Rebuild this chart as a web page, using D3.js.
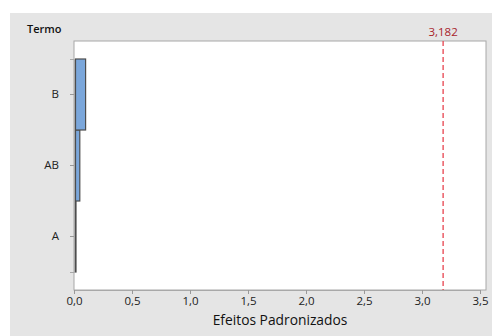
<!DOCTYPE html>
<html>
<head>
<meta charset="utf-8">
<script src="https://cdn.jsdelivr.net/npm/d3@7"></script>
<style>
  body { margin: 0; background: #fff; }
  svg { display: block; }
  text { font-family: "Open Sans", "Noto Sans", sans-serif; fill: #222; }
</style>
</head>
<body>
<svg id="chart" width="493" height="336"></svg>
<script>
// Pareto of standardized effects
const terms = ["A", "AB", "B"];
const effects = [0.012, 0.05, 0.10];
const xTicks = [0, 0.5, 1.0, 1.5, 2.0, 2.5, 3.0, 3.5];
const refValue = 3.182;
const refLabel = "3,182";
const xTitle = "Efeitos Padronizados";
const yTitle = "Termo";

const svg = d3.select("#chart");
const W = 493, H = 336;
const plot = { left: 74, top: 41, right: 486, bottom: 290 };

// gray panel
svg.append("rect").attr("x", 10).attr("y", 13).attr("width", 482).attr("height", H - 13)
  .attr("fill", "#e5e5e5");
svg.append("rect").attr("x", plot.left).attr("y", plot.top)
  .attr("width", plot.right - plot.left).attr("height", plot.bottom - plot.top)
  .attr("fill", "#fff").attr("stroke", "#a8a8a8").attr("stroke-width", 1);

const x = d3.scaleLinear().domain([0, 3.5]).range([plot.left, 480]);
const y = d3.scaleBand().domain(terms).range([272, 59]).padding(0);

// bars
const data = terms.map((t, i) => ({ term: t, value: effects[i] }));
svg.append("g").selectAll("rect").data(data).join("rect")
  .attr("x", x(0) + 1.5)
  .attr("y", d => y(d.term))
  .attr("width", d => Math.max(0.5, x(d.value) - x(0) - 1.5))
  .attr("height", y.bandwidth())
  .attr("fill", "#7ba7db")
  .attr("stroke", "#4d4d4d")
  .attr("stroke-width", 1.2);

// x axis
const xAxis = d3.axisBottom(x).tickValues(xTicks).tickSize(4).tickPadding(3)
  .tickFormat(d => d3.format(".1f")(d).replace(".", ","));
const gx = svg.append("g").attr("transform", `translate(0,${plot.bottom})`).call(xAxis);
gx.select(".domain").attr("stroke", "#a8a8a8");
gx.selectAll(".tick line").attr("stroke", "#999");
gx.selectAll(".tick text").attr("font-size", 11.5).attr("fill", "#222");

// y axis
const yAxis = d3.axisLeft(y).tickSize(4).tickPadding(11);
const gy = svg.append("g").attr("transform", `translate(${plot.left},0)`).call(yAxis);
gy.select(".domain").attr("stroke", "#a8a8a8");
gy.selectAll(".tick line").attr("stroke", "#999");
gy.selectAll(".tick text").attr("font-size", 11.5).attr("fill", "#111");

// reference line
svg.append("line")
  .attr("x1", x(refValue)).attr("x2", x(refValue))
  .attr("y1", plot.top).attr("y2", plot.bottom)
  .attr("stroke", "#e8434f").attr("stroke-width", 1.3)
  .attr("stroke-dasharray", "5,3");
svg.append("text").attr("x", x(refValue)).attr("y", 36)
  .attr("text-anchor", "middle").attr("font-size", 11.5)
  .style("fill", "#a8232b").text(refLabel);

// titles
svg.append("text").attr("x", 27).attr("y", 33).attr("font-size", 11)
  .attr("font-weight", 600).style("fill", "#111").text(yTitle);
svg.append("text").attr("x", (plot.left + plot.right) / 2).attr("y", 325)
  .attr("text-anchor", "middle").attr("font-size", 13.8).style("fill", "#111").text(xTitle);
</script>
</body>
</html>
